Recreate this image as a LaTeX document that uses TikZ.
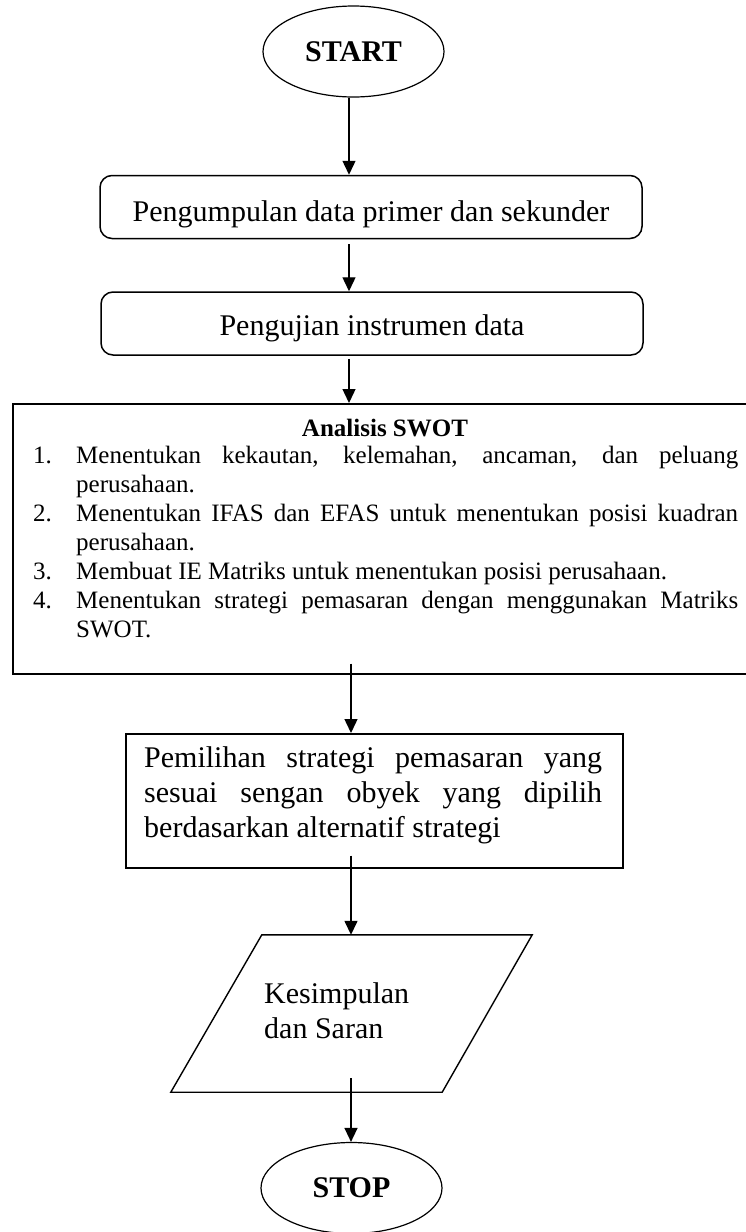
\documentclass[tikz,border=0pt]{standalone}
\usepackage{fontspec}
\setmainfont{Liberation Serif}
\usetikzlibrary{arrows.meta,shapes.geometric,calc}
\begin{document}
\begin{tikzpicture}[x=1pt,y=-1pt,
  term/.style={draw, ellipse, line width=1.2pt, minimum width=181pt, minimum height=91pt, inner sep=0pt, font=\fontsize{30pt}{34pt}\selectfont\bfseries},
  rbox/.style={draw, rounded corners=12pt, line width=1.5pt, minimum width=542pt, minimum height=63pt, inner sep=0pt},
  plainbox/.style={draw, line width=1.6pt, inner sep=0pt},
  big/.style={inner sep=0pt, anchor=base west, font=\fontsize{30pt}{34pt}\selectfont},
  bigc/.style={inner sep=0pt, anchor=base, font=\fontsize{30pt}{34pt}\selectfont},
  small/.style={inner sep=0pt, anchor=base west, font=\fontsize{25pt}{29pt}\selectfont},
  flow/.style={-{Triangle[width=13pt,length=14pt]}, line width=1.4pt},
]
\useasboundingbox (0,0) rectangle (746,1232);

% terminals
\node[term] (start) at (353.5,51.5) {START};
\node[term] (stop) at (351.5,1188) {STOP};

% rounded boxes
\node[rbox] (b1) at (371,207) {};
\node[bigc] (t1) at (371,221) {Pengumpulan data primer dan sekunder};
\node[rbox] (b2) at (372,323.5) {};
\node[bigc] (t2) at (372,335) {Pengujian instrumen data};

% SWOT box
\node[plainbox, minimum width=750pt, minimum height=270pt, anchor=north west] (swot) at (12,403) {};
\node[inner sep=0pt, anchor=base, font=\fontsize{25pt}{29pt}\selectfont\bfseries] (swott) at (385,436) {Analisis SWOT};
\node[small] (n1) at (33,463) {1.};
\node[small] (l1a) at (76,463) {\makebox[662pt][s]{Menentukan kekautan, kelemahan, ancaman, dan peluang}};
\node[small] (l1b) at (76,492) {perusahaan.};
\node[small] (n2) at (33,521) {2.};
\node[small] (l2a) at (76,521) {\makebox[662pt][s]{Menentukan IFAS dan EFAS untuk menentukan posisi kuadran}};
\node[small] (l2b) at (76,550) {perusahaan.};
\node[small] (n3) at (33,579) {3.};
\node[small] (l3a) at (76,579) {Membuat IE Matriks untuk menentukan posisi perusahaan.};
\node[small] (n4) at (33,608) {4.};
\node[small] (l4a) at (76,608) {\makebox[662pt][s]{Menentukan strategi pemasaran dengan menggunakan Matriks}};
\node[small] (l4b) at (76,637) {SWOT.};

% Pemilihan box
\node[plainbox, minimum width=497pt, minimum height=134pt, anchor=north west] (pem) at (125,733) {};
\node[big] (p1) at (144,767) {\makebox[458pt][s]{Pemilihan strategi pemasaran yang}};
\node[big] (p2) at (144,802) {\makebox[458pt][s]{sesuai sengan obyek yang dipilih}};
\node[big] (p3) at (144,837) {berdasarkan alternatif strategi};

% parallelogram
\node[minimum width=361pt, minimum height=157pt, inner sep=0pt] (par) at (351.5,1013.5) {};
\draw[line width=1.4pt] ($(par.north west)+(91,0)$) -- (par.north east) -- ($(par.south east)+(-90,0)$) -- (par.south west) -- cycle;
\node[big] (k1) at (264,1003) {Kesimpulan};
\node[big] (k2) at (264,1038) {dan Saran};

% connectors
\coordinate (ax) at (349,0);
\coordinate (bx) at (351,0);
\draw[flow] (ax |- start.south) -- (ax |- b1.north);
\draw[flow, shorten <=5pt] (ax |- b1.south) -- (ax |- b2.north);
\draw[flow, shorten <=3pt] (ax |- b2.south) -- (ax |- swot.north);
\draw[flow, shorten <=-11pt] (bx |- swot.south) -- (bx |- pem.north);
\draw[flow, shorten <=-13pt] (bx |- pem.south) -- (bx |- par.north);
\draw[flow, shorten <=-14pt] (bx |- par.south) -- (bx |- stop.north);
\end{tikzpicture}
\end{document}
